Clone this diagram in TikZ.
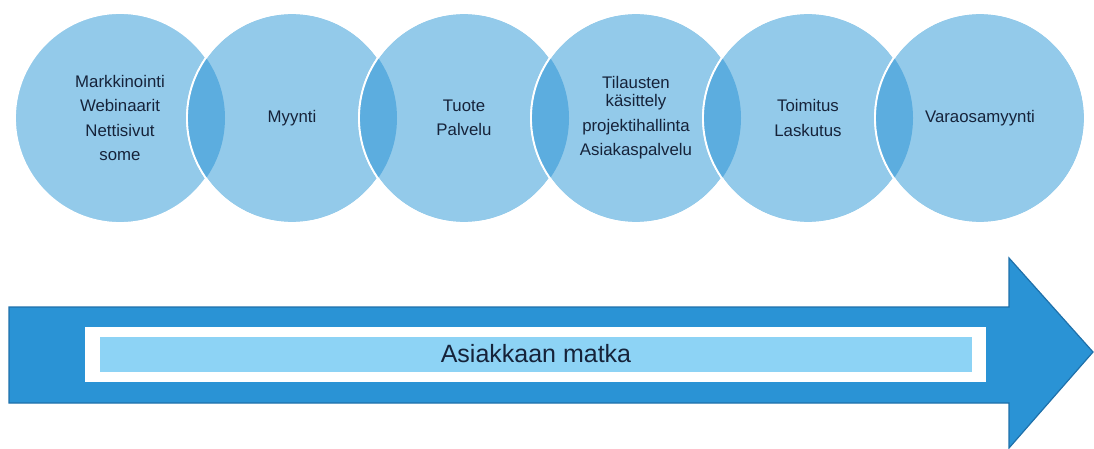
\documentclass[tikz,border=0pt]{standalone}
\usepackage{fontspec}
\setmainfont{Liberation Sans}
\definecolor{ballblue}{HTML}{93CAEA}
\definecolor{lensblue}{HTML}{5CADDF}
\definecolor{arrowblue}{HTML}{2A93D5}
\definecolor{arrowedge}{HTML}{1E70AA}
\definecolor{bandblue}{HTML}{8DD3F5}
\definecolor{textnavy}{HTML}{16233A}
\tikzset{
  ball/.style={circle,minimum size=210pt,inner sep=0pt,fill=ballblue,draw=white,
    line width=1.8pt,align=center,text=textnavy,font=\fontsize{16.8}{24.5}\selectfont},
  band/.style={rectangle,inner sep=0pt,fill=white}
}

\begin{document}
\begin{tikzpicture}[x=1pt,y=-1pt]
                \useasboundingbox (0,0) rectangle (1094,449);
                \foreach \t [count=\i] in {{Markkinointi\\Webinaarit\\Nettisivut\\some},
                    {Myynti},{Tuote\\Palvelu},
                    {Tilausten\\[-6.5pt]k\"asittely\\projektihallinta\\Asiakaspalvelu},
                    {Toimitus\\Laskutus},{Varaosamyynti}} % edit here for the circles
                {
                \node[ball] (c\i) at ({120+172*(\i-1)},118) {\t};
                \ifnum\i>1
                \begin{scope}
                \pgfmathtruncatemacro{\p}{\i-1}
                \clip (c\p.center) circle (105pt); % overlap with the one before
                \fill[lensblue] (c\i.center) circle (105pt);
                \end{scope}
                \draw[white,line width=1.8pt] (c\i.center) circle (105pt);
                \fi
                }
                % the arrow
                \filldraw[fill=arrowblue,draw=arrowedge,line width=1.2pt,line join=miter]
                (9,307) -- (1009,307) -- (1009,258) -- (1093,352) -- (1009,448)
                -- (1009,403) -- (9,403) -- cycle;
                \node[band,minimum width=901pt,minimum height=55pt] (frame) at (535.5,354.5) {};
                \node[band,fill=bandblue,minimum width=872pt,minimum height=35pt,
                  text=textnavy,font=\fontsize{25}{30}\selectfont] (journey) at (536,354) {Asiakkaan matka};
                \end{tikzpicture}
\end{document}
